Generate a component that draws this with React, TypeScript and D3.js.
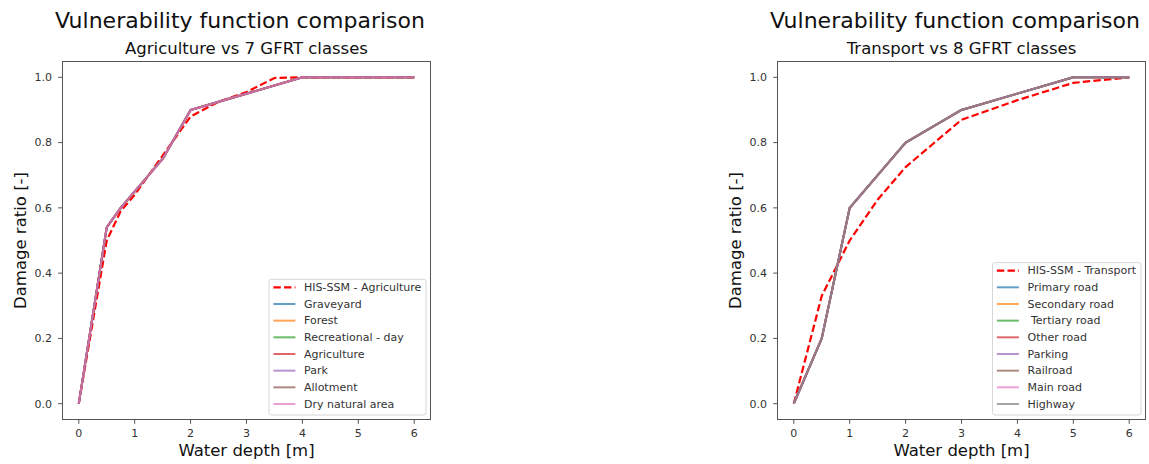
import * as d3 from 'd3';

// --- data ---
const agriHisDepth = [0, 0.5, 0.75, 1, 1.5, 2, 2.5, 3, 3.5, 4, 5, 6];
const agriHisRatio = [0, 0.5, 0.59, 0.64, 0.76, 0.88, 0.925, 0.955, 0.998, 1, 1, 1];
const agriGfrtDepth = [0, 0.5, 0.75, 1.5, 2, 4, 6];
const agriGfrtRatio = [0, 0.54, 0.6, 0.75, 0.9, 1, 1];
const agriClasses = ['Graveyard', 'Forest', 'Recreational - day', 'Agriculture', 'Park', 'Allotment', 'Dry natural area'];

const transHisDepth = [0, 0.5, 1, 1.5, 2, 3, 4, 5, 6];
const transHisRatio = [0, 0.33, 0.5, 0.625, 0.725, 0.87, 0.93, 0.983, 1];
const transGfrtDepth = [0, 0.5, 1, 2, 3, 4, 5, 6];
const transGfrtRatio = [0, 0.2, 0.6, 0.8, 0.9, 0.95, 1, 1];
const transClasses = ['Primary road', 'Secondary road', ' Tertiary road', 'Other road', 'Parking', 'Railroad', 'Main road', 'Highway'];

const xTicks = [0, 1, 2, 3, 4, 5, 6];
const yTicks = [0, 0.2, 0.4, 0.6, 0.8, 1.0];

const TAB10 = ['#1f77b4', '#ff7f0e', '#2ca02c', '#d62728', '#9467bd', '#8c564b', '#e377c2', '#7f7f7f'];
const FONT = '"DejaVu Sans", Verdana, sans-serif';

interface PanelProps {
  left: number;
  subtitle: string;
  hisLabel: string;
  hisDepth: number[];
  hisRatio: number[];
  gfrtDepth: number[];
  gfrtRatio: number[];
  classes: string[];
  legendWidth: number;
}

function Panel({ left, subtitle, hisLabel, hisDepth, hisRatio, gfrtDepth, gfrtRatio, classes, legendWidth }: PanelProps) {
  const top = 61;
  const width = 369;
  const height = 359;
  const x = d3.scaleLinear().domain([-0.3, 6.3]).range([0, width]);
  const y = d3.scaleLinear().domain([-0.05, 1.05]).range([height, 0]);
  const line = d3
    .line<[number, number]>()
    .x((d) => x(d[0]))
    .y((d) => y(d[1]));

  const hisPts = hisDepth.map((d, i) => [d, hisRatio[i]] as [number, number]);
  const gfrtPts = gfrtDepth.map((d, i) => [d, gfrtRatio[i]] as [number, number]);

  // legend (bottom right)
  const rowH = 16.67;
  const nRows = classes.length + 1;
  const legH = 8 + (nRows - 1) * rowH + 11;
  const legX = width - 5 - legendWidth;
  const legY = height - 5 - legH;

  return (
    <g transform={`translate(${left},${top})`} fontFamily={FONT}>
      <text x={width / 2 - 6.5} y={-33} textAnchor="middle" fontSize={22} fill="#111">
        Vulnerability function comparison
      </text>
      <text x={width / 2} y={-7.5} textAnchor="middle" fontSize={16.5} fill="#111">
        {subtitle}
      </text>

      <defs>
        <clipPath id={`clip-${left}`}>
          <rect x={0} y={0} width={width} height={height} />
        </clipPath>
      </defs>

      <g clipPath={`url(#clip-${left})`}>
        <path d={line(hisPts) ?? ''} fill="none" stroke="#ff0000" strokeWidth={2.2} strokeDasharray="7.4,3.2" />
        {classes.map((c, i) => (
          <path
            key={c}
            d={line(gfrtPts) ?? ''}
            fill="none"
            stroke={TAB10[i]}
            strokeOpacity={0.7}
            strokeWidth={2}
            strokeLinejoin="round"
          />
        ))}
      </g>

      <rect x={0.5} y={0.5} width={width - 1} height={height - 1} fill="none" stroke="#555" strokeWidth={1} />

      {xTicks.map((t) => (
        <g key={t} transform={`translate(${x(t)},${height})`}>
          <line y1={0} y2={3.8} stroke="#555" />
          <text y={16.5} textAnchor="middle" fontSize={11} fill="#333">
            {t}
          </text>
        </g>
      ))}
      {yTicks.map((t) => (
        <g key={t} transform={`translate(0,${y(t)})`}>
          <line x1={-3.8} x2={0} stroke="#555" />
          <text x={-10} dy="0.35em" textAnchor="end" fontSize={11} fill="#333">
            {t.toFixed(1)}
          </text>
        </g>
      ))}

      <text x={width / 2} y={height + 36} textAnchor="middle" fontSize={16.5} fill="#111">
        Water depth [m]
      </text>
      <text transform={`translate(${-36},${height / 2}) rotate(-90)`} textAnchor="middle" fontSize={16.5} fill="#111">
        Damage ratio [-]
      </text>

      <g transform={`translate(${legX},${legY})`}>
        <rect x={0} y={0} width={legendWidth} height={legH} rx={2.5} fill="#fff" fillOpacity={0.8} stroke="#d6d6d6" />
        {[hisLabel, ...classes].map((label, i) => {
          const ry = 8 + i * rowH;
          return (
            <g key={label + i}>
              {i === 0 ? (
                <line x1={4.4} x2={26.4} y1={ry} y2={ry} stroke="#ff0000" strokeWidth={2.2} strokeDasharray="7.4,3.2" />
              ) : (
                <line x1={4.4} x2={26.4} y1={ry} y2={ry} stroke={TAB10[i - 1]} strokeOpacity={0.7} strokeWidth={2} />
              )}
              <text x={35} y={ry} dy="0.35em" fontSize={11} fill="#333" style={{ whiteSpace: 'pre' }}>
                {label}
              </text>
            </g>
          );
        })}
      </g>
    </g>
  );
}

export default function App() {
  return (
    <div style={{ position: 'absolute', left: 0, top: 0 }}>
      <svg width={1149} height={464} style={{ display: 'block', background: '#fff' }}>
        <Panel
          left={62}
          subtitle="Agriculture vs 7 GFRT classes"
          hisLabel="HIS-SSM - Agriculture"
          hisDepth={agriHisDepth}
          hisRatio={agriHisRatio}
          gfrtDepth={agriGfrtDepth}
          gfrtRatio={agriGfrtRatio}
          classes={agriClasses}
          legendWidth={157}
        />
        <Panel
          left={777}
          subtitle="Transport vs 8 GFRT classes"
          hisLabel="HIS-SSM - Transport"
          hisDepth={transHisDepth}
          hisRatio={transHisRatio}
          gfrtDepth={transGfrtDepth}
          gfrtRatio={transGfrtRatio}
          classes={transClasses}
          legendWidth={148.5}
        />
      </svg>
    </div>
  );
}
